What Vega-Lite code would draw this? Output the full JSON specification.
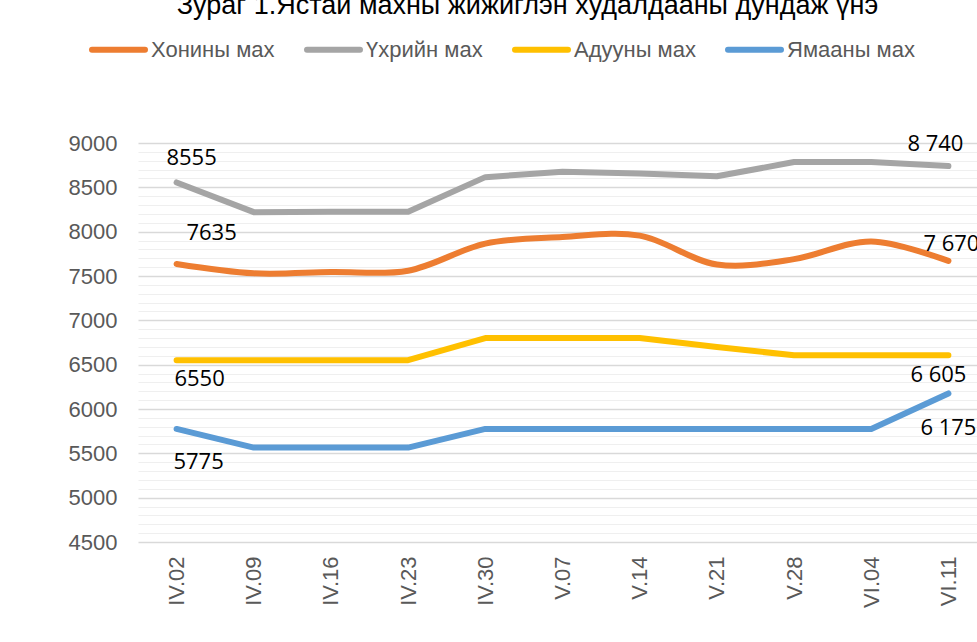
{
  "$schema": "https://vega.github.io/schema/vega-lite/v6.json",
  "width": 849,
  "height": 399,
  "autosize": {"type": "none"},
  "padding": {"left": 138, "top": 143, "right": 0, "bottom": 100},
  "background": "#ffffff",
  "title": {
    "text": "Зураг 1.Ястай махны жижиглэн худалдааны дундаж үнэ",
    "font": "Liberation Sans",
    "fontSize": 27,
    "fontWeight": "normal",
    "color": "#000000",
    "anchor": "middle",
    "frame": "group",
    "baseline": "alphabetic",
    "offset": -21,
    "dx": -35
  },
  "config": {
    "view": {"stroke": null},
    "locale": {"number": {"decimal": ".", "thousands": " ", "grouping": [3], "currency": ["", ""]}},
    "axisX": {
      "domain": false,
      "ticks": false,
      "grid": false,
      "labelAngle": -90,
      "labelPadding": 14,
      "labelFont": "Liberation Sans",
      "labelFontSize": 22,
      "labelColor": "#595959",
      "title": null
    },
    "legend": {
      "orient": "none",
      "legendX": -49,
      "legendY": -123,
      "direction": "horizontal",
      "symbolType": "stroke",
      "symbolSize": 2809,
      "symbolStrokeWidth": 6,
      "labelFont": "Liberation Sans",
      "labelFontSize": 22,
      "labelColor": "#595959",
      "labelOffset": 3,
      "columnPadding": 20,
      "title": null
    }
  },
  "data": {
    "values": [
      {"date": "IV.02", "series": "Хонины мах", "price": 7635},
      {"date": "IV.09", "series": "Хонины мах", "price": 7530},
      {"date": "IV.16", "series": "Хонины мах", "price": 7545},
      {"date": "IV.23", "series": "Хонины мах", "price": 7560},
      {"date": "IV.30", "series": "Хонины мах", "price": 7865},
      {"date": "V.07", "series": "Хонины мах", "price": 7940},
      {"date": "V.14", "series": "Хонины мах", "price": 7955},
      {"date": "V.21", "series": "Хонины мах", "price": 7630},
      {"date": "V.28", "series": "Хонины мах", "price": 7690},
      {"date": "VI.04", "series": "Хонины мах", "price": 7890},
      {"date": "VI.11", "series": "Хонины мах", "price": 7670},
      {"date": "IV.02", "series": "Үхрийн мах", "price": 8555},
      {"date": "IV.09", "series": "Үхрийн мах", "price": 8220},
      {"date": "IV.16", "series": "Үхрийн мах", "price": 8225},
      {"date": "IV.23", "series": "Үхрийн мах", "price": 8225},
      {"date": "IV.30", "series": "Үхрийн мах", "price": 8615},
      {"date": "V.07", "series": "Үхрийн мах", "price": 8675},
      {"date": "V.14", "series": "Үхрийн мах", "price": 8655},
      {"date": "V.21", "series": "Үхрийн мах", "price": 8625},
      {"date": "V.28", "series": "Үхрийн мах", "price": 8785},
      {"date": "VI.04", "series": "Үхрийн мах", "price": 8785},
      {"date": "VI.11", "series": "Үхрийн мах", "price": 8740},
      {"date": "IV.02", "series": "Адууны мах", "price": 6550},
      {"date": "IV.09", "series": "Адууны мах", "price": 6550},
      {"date": "IV.16", "series": "Адууны мах", "price": 6550},
      {"date": "IV.23", "series": "Адууны мах", "price": 6550},
      {"date": "IV.30", "series": "Адууны мах", "price": 6800},
      {"date": "V.07", "series": "Адууны мах", "price": 6800},
      {"date": "V.14", "series": "Адууны мах", "price": 6800},
      {"date": "V.21", "series": "Адууны мах", "price": 6700},
      {"date": "V.28", "series": "Адууны мах", "price": 6605},
      {"date": "VI.04", "series": "Адууны мах", "price": 6605},
      {"date": "VI.11", "series": "Адууны мах", "price": 6605},
      {"date": "IV.02", "series": "Ямааны мах", "price": 5775},
      {"date": "IV.09", "series": "Ямааны мах", "price": 5565},
      {"date": "IV.16", "series": "Ямааны мах", "price": 5565},
      {"date": "IV.23", "series": "Ямааны мах", "price": 5565},
      {"date": "IV.30", "series": "Ямааны мах", "price": 5775},
      {"date": "V.07", "series": "Ямааны мах", "price": 5775},
      {"date": "V.14", "series": "Ямааны мах", "price": 5775},
      {"date": "V.21", "series": "Ямааны мах", "price": 5775},
      {"date": "V.28", "series": "Ямааны мах", "price": 5775},
      {"date": "VI.04", "series": "Ямааны мах", "price": 5775},
      {"date": "VI.11", "series": "Ямааны мах", "price": 6175}
    ]
  },
  "encoding": {
    "x": {
      "field": "date",
      "type": "ordinal",
      "sort": ["IV.02", "IV.09", "IV.16", "IV.23", "IV.30", "V.07", "V.14", "V.21", "V.28", "VI.04", "VI.11"],
      "scale": {"type": "point", "padding": 0.5}
    }
  },
  "layer": [
    {
      "transform": [{"filter": "datum.series !== 'Хонины мах'"}],
      "mark": {"type": "line", "strokeWidth": 6, "strokeCap": "round", "strokeJoin": "round"},
      "encoding": {
        "y": {
          "field": "price",
          "type": "quantitative",
          "scale": {"domain": [4500, 9000], "nice": false, "zero": false},
          "axis": {
            "orient": "left",
            "title": null,
            "labels": false,
            "ticks": false,
            "domain": false,
            "grid": true,
            "gridColor": "#efefef",
            "gridWidth": 1.2,
            "values": [4600, 4700, 4800, 4900, 5100, 5200, 5300, 5400, 5600, 5700, 5800, 5900, 6100, 6200, 6300, 6400, 6600, 6700, 6800, 6900, 7100, 7200, 7300, 7400, 7600, 7700, 7800, 7900, 8100, 8200, 8300, 8400, 8600, 8700, 8800, 8900]
          }
        },
        "color": {
          "field": "series",
          "type": "nominal",
          "scale": {"domain": ["Хонины мах", "Үхрийн мах", "Адууны мах", "Ямааны мах"], "range": ["#ED7D31", "#A5A5A5", "#FFC000", "#5B9BD5"]},
          "legend": {"encode": {"symbols": {"update": {"strokeCap": {"value": "round"}}}}}
        }
      }
    },
    {
      "transform": [{"filter": "datum.series === 'Хонины мах'"}],
      "mark": {"type": "line", "strokeWidth": 6, "strokeCap": "round", "strokeJoin": "round", "interpolate": "catmull-rom"},
      "encoding": {
        "y": {
          "field": "price",
          "type": "quantitative",
          "axis": {
            "orient": "left",
            "title": null,
            "ticks": false,
            "domain": false,
            "grid": true,
            "gridColor": "#d9d9d9",
            "gridWidth": 1.3,
            "labelPadding": 21,
            "labelFont": "Liberation Sans",
            "labelFontSize": 22,
            "labelColor": "#595959",
            "format": "d",
            "values": [4500, 5000, 5500, 6000, 6500, 7000, 7500, 8000, 8500, 9000]
          }
        },
        "color": {"field": "series", "type": "nominal"}
      }
    },
    {
      "transform": [{"filter": "datum.series === 'Үхрийн мах' && datum.date === 'IV.02'"}],
      "mark": {"type": "text", "font": "Open Sans", "fontSize": 22, "color": "#000000", "align": "center", "baseline": "middle", "dx": 15, "dy": -24},
      "encoding": {"y": {"field": "price", "type": "quantitative", "axis": null}, "text": {"field": "price", "type": "quantitative", "format": "d"}}
    },
    {
      "transform": [{"filter": "datum.series === 'Хонины мах' && datum.date === 'IV.02'"}],
      "mark": {"type": "text", "font": "Open Sans", "fontSize": 22, "color": "#000000", "align": "center", "baseline": "middle", "dx": 35, "dy": -31},
      "encoding": {"y": {"field": "price", "type": "quantitative", "axis": null}, "text": {"field": "price", "type": "quantitative", "format": "d"}}
    },
    {
      "transform": [{"filter": "datum.series === 'Адууны мах' && datum.date === 'IV.02'"}],
      "mark": {"type": "text", "font": "Open Sans", "fontSize": 22, "color": "#000000", "align": "center", "baseline": "middle", "dx": 23, "dy": 19},
      "encoding": {"y": {"field": "price", "type": "quantitative", "axis": null}, "text": {"field": "price", "type": "quantitative", "format": "d"}}
    },
    {
      "transform": [{"filter": "datum.series === 'Ямааны мах' && datum.date === 'IV.02'"}],
      "mark": {"type": "text", "font": "Open Sans", "fontSize": 22, "color": "#000000", "align": "center", "baseline": "middle", "dx": 22, "dy": 33},
      "encoding": {"y": {"field": "price", "type": "quantitative", "axis": null}, "text": {"field": "price", "type": "quantitative", "format": "d"}}
    },
    {
      "transform": [{"filter": "datum.series === 'Үхрийн мах' && datum.date === 'VI.11'"}],
      "mark": {"type": "text", "font": "Open Sans", "fontSize": 22, "color": "#000000", "align": "center", "baseline": "middle", "dx": -13, "dy": -22},
      "encoding": {"y": {"field": "price", "type": "quantitative", "axis": null}, "text": {"field": "price", "type": "quantitative", "format": ",d"}}
    },
    {
      "transform": [{"filter": "datum.series === 'Хонины мах' && datum.date === 'VI.11'"}],
      "mark": {"type": "text", "font": "Open Sans", "fontSize": 22, "color": "#000000", "align": "center", "baseline": "middle", "dx": 3, "dy": -17},
      "encoding": {"y": {"field": "price", "type": "quantitative", "axis": null}, "text": {"field": "price", "type": "quantitative", "format": ",d"}}
    },
    {
      "transform": [{"filter": "datum.series === 'Адууны мах' && datum.date === 'VI.11'"}],
      "mark": {"type": "text", "font": "Open Sans", "fontSize": 22, "color": "#000000", "align": "center", "baseline": "middle", "dx": -10, "dy": 20},
      "encoding": {"y": {"field": "price", "type": "quantitative", "axis": null}, "text": {"field": "price", "type": "quantitative", "format": ",d"}}
    },
    {
      "transform": [{"filter": "datum.series === 'Ямааны мах' && datum.date === 'VI.11'"}],
      "mark": {"type": "text", "font": "Open Sans", "fontSize": 22, "color": "#000000", "align": "center", "baseline": "middle", "dx": 0, "dy": 35},
      "encoding": {"y": {"field": "price", "type": "quantitative", "axis": null}, "text": {"field": "price", "type": "quantitative", "format": ",d"}}
    }
  ],
  "resolve": {"axis": {"y": "independent"}, "scale": {"y": "shared"}}
}
